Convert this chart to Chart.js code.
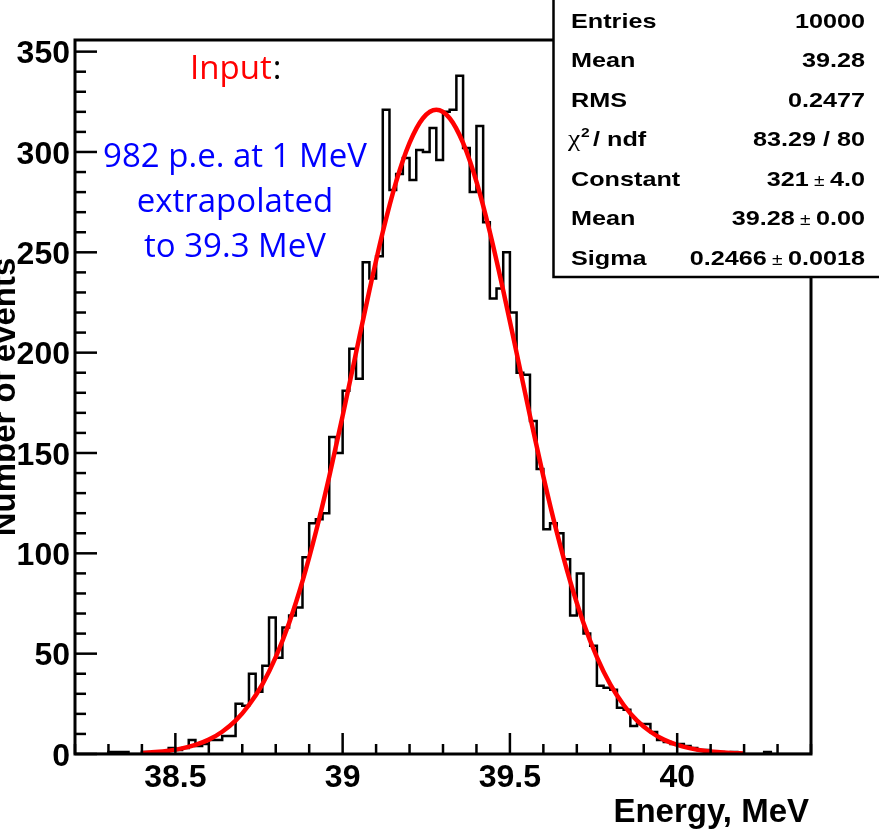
<!DOCTYPE html>
<html><head><meta charset="utf-8">
<script src="https://cdn.jsdelivr.net/npm/chart.js@4.4.0/dist/chart.umd.min.js"></script>
<style>html,body{margin:0;padding:0;background:#fff;}#wrap{width:879px;height:830px;position:relative;}</style>
</head><body><div id="wrap"><canvas id="c" width="879" height="830"></canvas></div>
<script>
// ---- data ----
const binStart = 38.2;
const binWidth = 0.02;
const counts = [
  0,0,0,0,0,
  1,1,1,0,0,
  1,0,1,1,3,
  2,3,7,4,5,
  7,7,9,9,25,
  24,40,31,44,68,
  48,63,69,73,98,
  115,117,120,158,150,
  181,202,187,245,237,
  248,321,281,289,297,
  286,301,300,312,296,
  320,321,338,302,280,
  313,265,227,232,250,
  220,190,189,166,142,
  112,115,110,97,69,
  90,60,54,34,33,
  32,23,22,14,15,
  15,11,7,6,5,
  5,4,3,2,2,
  1,1,0,1,0,
  0,0,0,1,0,
  0,0,0,0,0
];
const fitX = [38.40,38.44,38.48,38.52,38.56,38.60,38.64,38.68,38.72,38.76,38.80,38.84,38.88,38.92,38.96,39.00,
  39.04,39.08,39.12,39.16,39.20,39.24,39.28,39.32,39.36,39.40,39.44,39.48,39.52,39.56,39.60,39.64,39.68,39.72,
  39.76,39.80,39.84,39.88,39.92,39.96,40.00,40.04,40.08,40.12,40.16,40.20];
const fitY = [0.55,0.97,1.66,2.78,4.52,7.16,11.1,16.6,24.4,34.7,48.3,65.3,86.1,110.6,138.3,168.5,199.9,231.0,
  260.1,285.2,304.5,316.8,321,316.8,304.5,285.2,260.1,231.0,199.9,168.5,138.3,110.6,86.1,65.3,48.3,34.7,24.4,
  16.6,11.1,7.16,4.52,2.78,1.66,0.97,0.55,0.30];
const xMin = 38.2, xMax = 40.4, yMin = 0, yMax = 355.8;
const xTicks = [38.5, 39, 39.5, 40];
const xTickLabels = ['38.5', '39', '39.5', '40'];
const yTicks = [0, 50, 100, 150, 200, 250, 300, 350];
const yTickLabels = ['0', '50', '100', '150', '200', '250', '300', '350'];
const xMinorStep = 0.1, yMinorStep = 10;
const xTitle = 'Energy, MeV';
const yTitle = 'Number of events';
const statsLabels = ['Entries', 'Mean', 'RMS', 'CHI', 'Constant', 'Mean', 'Sigma'];
const statsValues = [['10000'], ['39.28'], ['0.2477'], ['83.29 / 80'], ['321', '4.0'], ['39.28', '0.00'], ['0.2466', '0.0018']];
const noteInput = 'Input';
const noteLines = ['982 p.e. at 1 MeV', 'extrapolated', 'to 39.3 MeV'];

// ---- chart ----
const histData = counts.map((v, i) => ({x: +(binStart + i * binWidth).toFixed(4), y: v}));
histData.push({x: +(binStart + counts.length * binWidth).toFixed(4), y: counts[counts.length - 1]});
const fitData = fitX.map((x, i) => ({x: x, y: fitY[i]}));

const SX = 1.2;
function sText(ctx, t, x, y, font) {
  ctx.save(); ctx.font = font; ctx.translate(x, y); ctx.scale(SX, 1); ctx.fillText(t, 0, 0); ctx.restore();
}
function sWidth(ctx, t, font) { ctx.save(); ctx.font = font; const w = ctx.measureText(t).width * SX; ctx.restore(); return w; }

const decor = {
  id: 'decor',
  afterDraw(chart) {
    const ctx = chart.ctx, a = chart.chartArea, xs = chart.scales.x, ys = chart.scales.y;
    ctx.save();
    ctx.strokeStyle = '#000'; ctx.lineCap = 'butt';
    // ticks (inward)
    ctx.lineWidth = 2.5;
    const nx = Math.round((xMax - xMin) / xMinorStep);
    for (let k = 0; k <= nx; k++) {
      const v = +(xMin + k * xMinorStep).toFixed(3);
      const major = Math.abs(v * 2 - Math.round(v * 2)) < 1e-6;
      const px = xs.getPixelForValue(v);
      ctx.beginPath(); ctx.moveTo(px, a.bottom); ctx.lineTo(px, a.bottom - (major ? 21 : 10)); ctx.stroke();
    }
    for (let v = yMin; v <= yMax; v += yMinorStep) {
      const major = v % 50 === 0;
      const py = ys.getPixelForValue(v);
      ctx.beginPath(); ctx.moveTo(a.left, py); ctx.lineTo(a.left + (major ? 22 : 11), py); ctx.stroke();
    }
    // frame
    ctx.lineWidth = 3;
    ctx.strokeRect(a.left, a.top, a.right - a.left, a.bottom - a.top);

    // axis titles
    ctx.fillStyle = '#000';
    ctx.font = 'bold 33px "Liberation Sans", Arial, sans-serif';
    ctx.textAlign = 'right'; ctx.textBaseline = 'alphabetic';
    ctx.fillText(xTitle, 809, 822);
    ctx.save(); ctx.translate(15, 397); ctx.rotate(-Math.PI / 2); ctx.textAlign = 'center';
    ctx.fillText(yTitle, 0, 0); ctx.restore();

    // annotations
    ctx.font = '33px "Open Sans", sans-serif';
    ctx.textAlign = 'left';
    ctx.fillStyle = '#ff0000';
    ctx.fillText(noteInput, 190, 79);
    const wI = ctx.measureText(noteInput).width;
    ctx.fillStyle = '#000';
    ctx.fillText(':', 190 + wI + 1, 79);
    ctx.fillStyle = '#0000ff'; ctx.textAlign = 'center';
    noteLines.forEach((t, i) => ctx.fillText(t, 235, 167 + 45 * i));

    // stats box
    ctx.fillStyle = '#fff';
    ctx.fillRect(553, -5, 340, 282);
    ctx.lineWidth = 2.5; ctx.strokeStyle = '#000';
    ctx.strokeRect(553.5, -5, 340, 282);
    ctx.fillStyle = '#000'; ctx.textAlign = 'left'; ctx.textBaseline = 'alphabetic';
    const fB = 'bold 21px "Liberation Sans", Arial, sans-serif';
    const fPM = '16px "Liberation Sans", Arial, sans-serif';
    statsLabels.forEach((lab, r) => {
      const by = 27.5 + 39.5 * r;
      if (lab === 'CHI') {
        sText(ctx, '\u03c7', 568, by, '23px "Liberation Serif", serif');
        sText(ctx, '2', 581, by - 9, 'bold 13px "Liberation Sans", Arial, sans-serif');
        sText(ctx, ' / ndf', 586, by, fB);
      } else {
        sText(ctx, lab, 571, by, fB);
      }
      const vals = statsValues[r];
      const pieces = [];
      vals.forEach((v, j) => { if (j > 0) pieces.push([' \u00b1 ', fPM]); pieces.push([v, fB]); });
      let tot = 0; pieces.forEach(p => tot += sWidth(ctx, p[0], p[1]));
      let x = 865 - tot;
      pieces.forEach(p => { sText(ctx, p[0], x, by, p[1]); x += sWidth(ctx, p[0], p[1]); });
    });
    ctx.restore();
  }
};

new Chart(document.getElementById('c'), {
  type: 'line',
  data: {
    datasets: [
      {label: 'fit', data: fitData, borderColor: '#ff0000', borderWidth: 4.5, pointRadius: 0,
       cubicInterpolationMode: 'monotone', fill: false, order: 0},
      {label: 'hist', data: histData, borderColor: '#000', borderWidth: 2.5, pointRadius: 0,
       stepped: true, fill: false, order: 1}
    ]
  },
  options: {
    responsive: false, animation: false, devicePixelRatio: 1,
    layout: {padding: {left: 0, right: 68, top: 40, bottom: 0}},
    plugins: {legend: {display: false}, tooltip: {enabled: false}},
    scales: {
      x: {type: 'linear', min: xMin, max: xMax,
        grid: {display: false, drawTicks: false}, border: {display: false},
        afterBuildTicks: s => { s.ticks = xTicks.map(v => ({value: v})); },
        afterFit: s => { s.height = 76; },
        ticks: {color: '#000', padding: 5, maxRotation: 0, autoSkip: false,
          font: {family: '"Liberation Sans", Arial, sans-serif', size: 32, weight: 'bold'},
          callback: (v, i) => xTickLabels[i]}},
      y: {type: 'linear', min: yMin, max: yMax,
        grid: {display: false, drawTicks: false}, border: {display: false},
        afterBuildTicks: s => { s.ticks = yTicks.map(v => ({value: v})); },
        afterFit: s => { s.width = 75; },
        ticks: {color: '#000', padding: 5, autoSkip: false, labelOffset: 3,
          font: {family: '"Liberation Sans", Arial, sans-serif', size: 32, weight: 'bold'},
          callback: (v, i) => yTickLabels[i]}}
    }
  },
  plugins: [decor]
});
</script></body></html>
